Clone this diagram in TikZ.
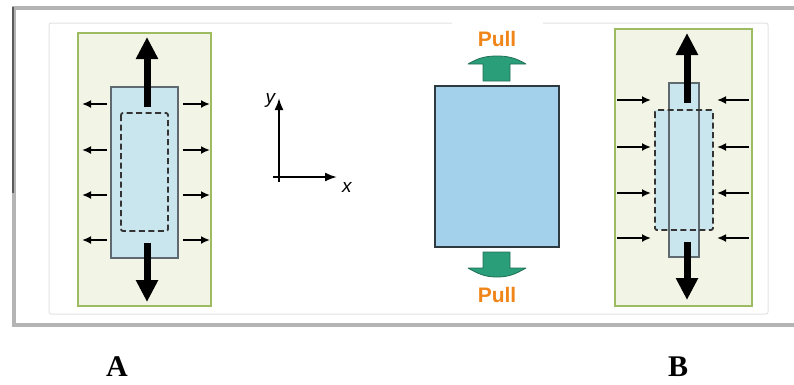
\documentclass[tikz,border=0pt]{standalone}
\usepackage{fontspec}
\setsansfont{Liberation Sans}
\newfontfamily\titelfont{Liberation Serif}
\usepackage{tikz}
\usetikzlibrary{arrows, arrows.meta}

\definecolor{rahmengrau}{HTML}{B4B4B4}
\definecolor{rahmendunkel}{HTML}{5A5A5A}
\definecolor{panelrand}{HTML}{E2E2E2}
\definecolor{feldgruen}{HTML}{F2F5E5}
\definecolor{randgruen}{HTML}{9DBB61}
\definecolor{probeblau}{HTML}{C9E6EE}
\definecolor{probegrau}{HTML}{5E6A70}
\definecolor{blockblau}{HTML}{A3D0EA}
\definecolor{blockrand}{HTML}{2F3A40}
\definecolor{pfeilgruen}{HTML}{2A9E79}
\definecolor{pfeilrand}{HTML}{1F6F55}
\definecolor{zugorange}{HTML}{F0861A}

\begin{document}
\begin{tikzpicture}[x=1pt, y=-1pt,
				>={Latex[length=12pt,width=9pt]},   %Pfeilspitzen
				feld/.style={fill=feldgruen, draw=randgruen, line width=1.2pt},
				probe/.style={fill=probeblau, draw=probegrau, line width=1.1pt},
				strich/.style={dash pattern=on 6pt off 3.5pt, line width=1.8pt, rounded corners=2pt, draw=black!80},
				kraft/.style={line width=2pt, -{Latex[length=9pt,width=8pt]}},
				zug/.style={line width=7pt, -{Triangle[length=22pt,width=21pt]}},
				gruenpfeil/.style={fill=pfeilgruen, draw=pfeilrand, line width=0.8pt, line join=round},
				pull/.style={text=zugorange, font=\sffamily\bfseries\fontsize{21}{23}\selectfont},
				achse/.style={font=\sffamily\itshape\fontsize{19}{20}\selectfont, inner sep=0pt}]
				\useasboundingbox (0,0) rectangle (794,384);
				%Rahmen
				\draw[rahmengrau, line width=4pt] (794,8) -- (14,8) -- (14,325) -- (794,325);
				\draw[rahmendunkel, line width=2pt] (13,7) -- (13,193);
				\draw[panelrand, line width=1pt, rounded corners=2pt] (452,23) -- (49,23) -- (49,314) -- (768,314) -- (768,23) -- (543,23);
				% Probe A
				\draw[feld] (78,33) rectangle (211,306);
				\draw[probe] (111,87) rectangle (178,258);
				\draw[strich] (121,113) rectangle (168,231);
				\draw[zug] (147,107) -- (147,37);
				\draw[zug] (147,243) -- (147,302);
				\foreach \y in {104,150,195,240} {
					\draw[kraft] (107,\y) -- (82,\y);
					\draw[kraft] (183,\y) -- (210,\y);
				}
				% Achsen
				\draw[->, line width=2pt] (279,182) -- (279,98) node[achse, anchor=east, xshift=-3pt, yshift=-2pt] (ylab) {y};
				\draw[->, line width=2pt] (273,177) -- (337,177) node[achse, anchor=north west, xshift=4pt, yshift=-4pt] (xlab) {x};
				% Block mit Zug
				\draw[fill=blockblau, draw=blockrand, line width=2pt] (435,86) rectangle (559,247);
				\draw[gruenpfeil] (483,81) -- (483,64) -- (468,64) to[out=30, in=180] (497,56) to[out=0, in=150] (526,64) -- (510,64) -- (510,81) -- cycle;
				\draw[gruenpfeil] (483,252) -- (510,252) -- (510,268) -- (526,268) to[out=210, in=0] (497,277) to[out=180, in=-30] (468,268) -- (483,268) -- cycle;
				\node[pull] (pulloben) at (497,39) {Pull};
				\node[pull] (pullunten) at (497,295) {Pull};
				% Probe B
				\draw[feld] (615,29) rectangle (752,306);
				\fill[probeblau] (655,110) rectangle (713,230);
				\draw[probe] (669,83) rectangle (699,257);
				\draw[strich] (655,110) rectangle (713,230);
				\draw[zug] (687,103) -- (687,33);
				\draw[zug] (687,242) -- (687,300);
				\foreach \y in {100,147,193,238} {
					\draw[kraft] (617,\y) -- (651,\y);
					\draw[kraft] (749,\y) -- (717,\y);
				}
				%Beschriftung
				\node[font=\titelfont\bfseries\fontsize{30}{32}\selectfont] (labelA) at (117,367) {A};
				\node[font=\titelfont\bfseries\fontsize{30}{32}\selectfont] (labelB) at (678,367) {B};
			\end{tikzpicture}
\end{document}
